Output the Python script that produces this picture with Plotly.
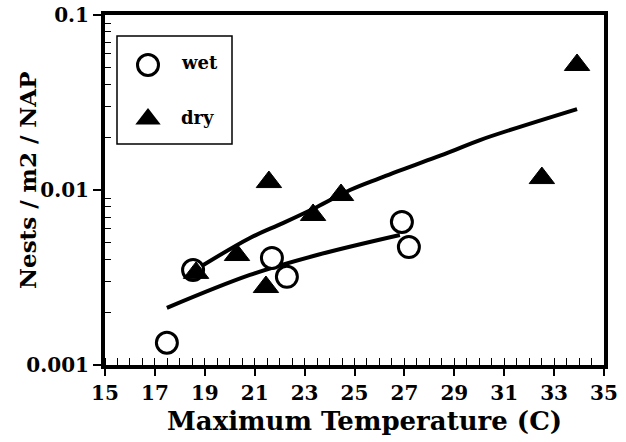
import plotly.graph_objects as go

# ---- data ----
wet_temp = [17.48, 18.53, 21.69, 22.29, 26.90, 27.18]
wet_nests = [0.00134, 0.00349, 0.00409, 0.00319, 0.00657, 0.00472]

dry_temp = [18.65, 20.29, 21.57, 21.45, 23.34, 24.46, 32.51, 33.92]
dry_nests = [0.00336, 0.00425, 0.0111, 0.00279, 0.0072, 0.00936, 0.0117, 0.0518]

# fitted curves
wet_fit_temp = [17.48, 20.81, 23.50, 26.82]
wet_fit_nests = [0.00212, 0.00327, 0.00425, 0.00553]

dry_fit_temp = [18.81, 20.81, 22.13, 23.50, 24.82, 26.02, 28.83, 30.03, 33.92]
dry_fit_nests = [0.00363, 0.00532, 0.00647, 0.0080, 0.0100, 0.0117, 0.0165, 0.0193, 0.0290]

x_ticks = [15, 17, 19, 21, 23, 25, 27, 29, 31, 33, 35]
y_ticks = [0.001, 0.01, 0.1]
y_tick_text = ["0.001", "0.01", "0.1"]
legend_labels = ["wet", "dry"]

FONT = "DejaVu Serif"

# plot area on screen: x 105..604, y 15..365
PL, PR, PT, PB = 105, 604, 15, 365
W, H = 626, 442
def px(xs):
    return (xs - PL) / (PR - PL)
def py(ys):
    return (PB - ys) / (PB - PT)

fig = go.Figure()

fig.add_trace(go.Scatter(x=wet_fit_temp, y=wet_fit_nests, mode="lines",
                         line=dict(color="black", width=4, shape="spline"),
                         showlegend=False, hoverinfo="skip"))
fig.add_trace(go.Scatter(x=dry_fit_temp, y=dry_fit_nests, mode="lines",
                         line=dict(color="black", width=4, shape="spline"),
                         showlegend=False, hoverinfo="skip"))
fig.add_trace(go.Scatter(x=wet_temp, y=wet_nests, mode="markers", name="wet",
                         marker=dict(symbol="circle", size=21, color="white",
                                     line=dict(color="black", width=3)),
                         showlegend=False))
fig.add_trace(go.Scatter(x=dry_temp, y=dry_nests, mode="markers", name="dry",
                         marker=dict(symbol="triangle-up", size=22, color="black",
                                     line=dict(color="black", width=1)),
                         showlegend=False))

# manual legend on an overlay paper-like axis
fig.add_trace(go.Scatter(x=[px(148)], y=[py(65)], mode="markers",
                         xaxis="x2", yaxis="y2",
                         marker=dict(symbol="circle", size=21, color="white",
                                     line=dict(color="black", width=3)),
                         showlegend=False, hoverinfo="skip"))
fig.add_trace(go.Scatter(x=[px(148)], y=[py(119)], mode="markers",
                         xaxis="x2", yaxis="y2",
                         marker=dict(symbol="triangle-up", size=22, color="black"),
                         showlegend=False, hoverinfo="skip"))

fig.add_shape(type="rect", xref="paper", yref="paper",
              x0=px(117), x1=px(232), y0=py(144), y1=py(36),
              line=dict(color="black", width=1.5), fillcolor="rgba(0,0,0,0)")
for lbl, yy in zip(legend_labels, [63, 117]):
    fig.add_annotation(x=px(179), y=py(yy), xref="paper", yref="paper",
                       text=lbl, showarrow=False, xanchor="left", yanchor="middle",
                       font=dict(family=FONT, size=18, color="black", weight="bold"))

# axis titles as annotations for exact placement
fig.add_annotation(x=px(364), y=py(421), xref="paper", yref="paper",
                   text="Maximum Temperature (C)", showarrow=False,
                   xanchor="center", yanchor="middle",
                   font=dict(family=FONT, size=26, color="black", weight="bold"))
fig.add_annotation(x=px(27), y=py(180), xref="paper", yref="paper",
                   text="Nests / m2 / NAP", showarrow=False, textangle=-90,
                   xanchor="center", yanchor="middle",
                   font=dict(family=FONT, size=23, color="black", weight="bold"))

fig.update_layout(
    width=W, height=H,
    margin=dict(l=PL, r=W - PR, t=PT, b=H - PB, autoexpand=False),
    paper_bgcolor="white", plot_bgcolor="white",
    font=dict(family=FONT, color="black"),
    xaxis=dict(
        range=[15, 35], tickvals=x_ticks, ticks="outside", ticklen=7, tickwidth=1.5,
        tickcolor="black", showgrid=False, zeroline=False, automargin=False,
        showline=True, linewidth=4, linecolor="black", mirror=True,
        ticklabeloverflow="allow",
        tickfont=dict(family=FONT, size=20, color="black", weight="bold"),
        minor=dict(dtick=0.5, ticks="inside", ticklen=7, tickwidth=1, tickcolor="black",
                   showgrid=False),
    ),
    yaxis=dict(
        type="log", range=[-3, -1], tickvals=y_ticks, ticktext=y_tick_text,
        ticks="outside", ticklen=8, tickwidth=1.5, tickcolor="black",
        showgrid=False, zeroline=False, automargin=False,
        showline=True, linewidth=4, linecolor="black", mirror=True,
        ticklabeloverflow="allow",
        tickfont=dict(family=FONT, size=20, color="black", weight="bold"),
        minor=dict(tickvals=[0.002, 0.003, 0.004, 0.005, 0.006, 0.007, 0.008, 0.009,
                             0.02, 0.03, 0.04, 0.05, 0.06, 0.07, 0.08, 0.09],
                   ticks="inside", ticklen=6, tickwidth=1, tickcolor="black", showgrid=False),
    ),
    xaxis2=dict(overlaying="x", range=[0, 1], visible=False),
    yaxis2=dict(overlaying="y", range=[0, 1], visible=False),
    showlegend=False,
)

fig.write_html("out.html", config={"displayModeBar": False},
               post_script="document.body.style.margin='0';document.body.style.overflow='hidden';")
